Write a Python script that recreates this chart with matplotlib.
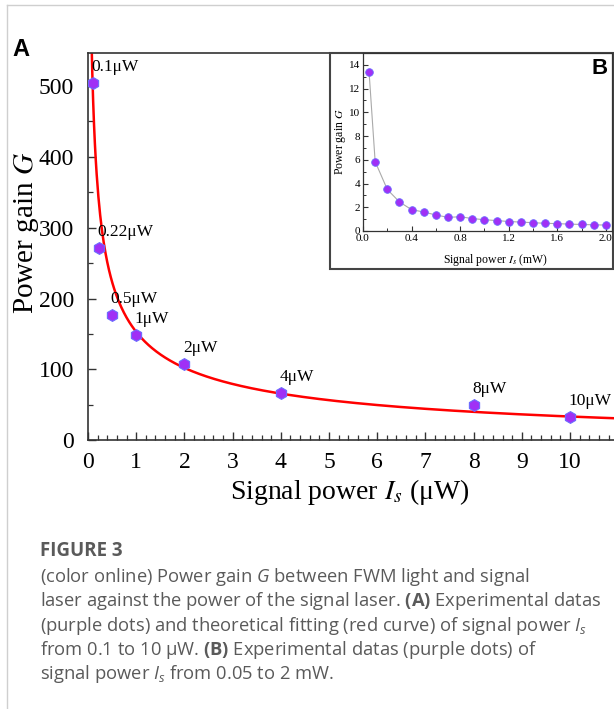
import numpy as np
import matplotlib.pyplot as plt
from matplotlib.patches import Rectangle
from matplotlib.lines import Line2D
from matplotlib.ticker import MultipleLocator

# (A) measured gain vs signal power (uW)
power_uw = [0.1, 0.22, 0.5, 1, 2, 4, 8, 10]
gain_uw = [504, 271, 177, 148, 108, 67, 50, 33]
point_labels = ["0.1\u03bcW", "0.22\u03bcW", "0.5\u03bcW", "1\u03bcW", "2\u03bcW",
                "4\u03bcW", "8\u03bcW", "10\u03bcW"]

# theoretical fitting (red curve), G = a / sqrt(I + c) + d
fit_a = 176.8
fit_c = 0.018
fit_d = -22.2

# (B) measured gain vs signal power (mW)
power_mw = [0.05, 0.1, 0.2, 0.3, 0.4, 0.5, 0.6, 0.7, 0.8, 0.9, 1.0,
            1.1, 1.2, 1.3, 1.4, 1.5, 1.6, 1.7, 1.8, 1.9, 2.0]
gain_mw = [13.4, 5.85, 3.5, 2.45, 1.8, 1.6, 1.35, 1.15, 1.2, 1.05, 0.95,
           0.88, 0.8, 0.75, 0.7, 0.65, 0.62, 0.58, 0.55, 0.52, 0.5]

serif = "Liberation Serif"
purple = "#a030f5"
edge = "#6b6bff"

plt.rcParams["mathtext.fontset"] = "custom"
plt.rcParams["mathtext.rm"] = "Open Sans"
plt.rcParams["mathtext.it"] = "Open Sans:italic"
plt.rcParams["mathtext.bf"] = "Open Sans:bold"

W, H = 614, 709
fig = plt.figure(figsize=(W / 100, H / 100), dpi=100)

# page frame
fig.add_artist(Line2D([6.5 / W, 6.5 / W], [0, 1 - 5 / H], color="#cfcfcf", lw=1))
fig.add_artist(Line2D([6.5 / W, 1], [1 - 5 / H, 1 - 5 / H], color="#cfcfcf", lw=1))

# main panel
ax_h = 440.4 - 52.5
ax_w = 11 * 48.2
ax = fig.add_axes([88 / W, 1 - 440.4 / H, ax_w / W, ax_h / H])
ax.set_xlim(0, 11)
ax.set_ylim(0, 547)

xs = np.linspace(0.07, 11, 600)
ax.plot(xs, fit_a / np.sqrt(xs + fit_c) + fit_d, color="red", lw=1.8, zorder=2)
ax.plot(power_uw, gain_uw, linestyle="none", marker="h", ms=8.5,
        mfc=purple, mec=edge, mew=0.8, zorder=3)
for x, y, t in zip(power_uw, gain_uw, point_labels):
    ax.annotate(t, (x, y), xytext=(-1, 11.5), textcoords="offset points",
                ha="left", va="center", fontsize=12.5, family=serif, zorder=4)

ax.xaxis.set_major_locator(MultipleLocator(1))
ax.xaxis.set_minor_locator(MultipleLocator(0.2))
ax.yaxis.set_major_locator(MultipleLocator(100))
ax.yaxis.set_minor_locator(MultipleLocator(50))
ax.tick_params(which="both", direction="in", top=False, right=False, color="#333333")
ax.tick_params(which="major", length=6, width=1, labelsize=17, pad=8)
ax.tick_params(which="minor", length=3.5, width=0.9)
ax.tick_params(axis="y", which="major", pad=10)
ax.set_xticks(range(0, 11))
for lab in ax.get_xticklabels() + ax.get_yticklabels():
    lab.set_family(serif)
for s in ax.spines.values():
    s.set_linewidth(1.2)
    s.set_color("#333333")
ax.set_xlabel("Signal power $I_s$ (\u03bcW)", fontsize=20, family=serif,
              math_fontfamily="stix", va="center")
ax.set_ylabel("Power gain $G$", fontsize=21, family=serif,
              math_fontfamily="stix", va="center")
ax.xaxis.set_label_coords((350 - 88) / ax_w, -(492 - 440.4) / ax_h)
ax.yaxis.set_label_coords(-(88 - 27) / ax_w, (440.4 - 233) / ax_h)

fig.text(12 / W, 1 - 49 / H, "A", fontsize=17, fontweight="bold",
         family="Liberation Sans", va="center", ha="left")

# inset frame
box = Rectangle((330 / W, 1 - 269 / H), (613 - 330) / W, (269 - 52.5) / H,
                transform=fig.transFigure, facecolor="white", edgecolor="#444444",
                lw=1.5, zorder=1)
fig.add_artist(box)

# inset panel (B)
ai_h = 231 - 53
ai_w = 612 - 363
ai = fig.add_axes([363 / W, 1 - 231 / H, ai_w / W, ai_h / H], zorder=2)
ai.set_xlim(0, 2.05)
ai.set_ylim(0, 15)
ai.plot(power_mw, gain_mw, color="#aaaaaa", lw=0.8, marker="o", ms=5.5,
        mfc=purple, mec=edge, mew=0.6)
ai.xaxis.set_major_locator(MultipleLocator(0.4))
ai.xaxis.set_minor_locator(MultipleLocator(0.2))
ai.yaxis.set_major_locator(MultipleLocator(2))
ai.yaxis.set_minor_locator(MultipleLocator(1))
ai.xaxis.set_major_formatter(lambda v, p: f"{v:.1f}")
ai.tick_params(which="both", direction="in", top=False, right=False, color="#333333")
ai.tick_params(which="major", length=3.5, width=0.8, labelsize=8, pad=2)
ai.tick_params(which="minor", length=2, width=0.7)
for lab in ai.get_xticklabels() + ai.get_yticklabels():
    lab.set_family(serif)
for s in ai.spines.values():
    s.set_linewidth(0.9)
    s.set_color("#333333")
ai.set_xlabel("Signal power $I_s$ (mW)", fontsize=8.5, family=serif,
              math_fontfamily="stix", va="center")
ai.set_ylabel("Power gain $G$", fontsize=8.5, family=serif,
              math_fontfamily="stix", va="center")
ai.xaxis.set_label_coords((496 - 363) / ai_w, -(260 - 231) / ai_h)
ai.yaxis.set_label_coords(-(363 - 341) / ai_w, 0.5)
fig.text(608 / W, 1 - 69 / H, "B", fontsize=16, fontweight="bold",
         family="Liberation Sans", va="center", ha="right", zorder=3)

# caption
cap = "#5a5a5a"
fig.text(40 / W, 1 - 551 / H, "FIGURE 3", fontsize=13.5, fontweight="bold",
         family="Open Sans", color=cap, va="center")
lines = [
    "(color online) Power gain $G$ between FWM light and signal",
    "laser against the power of the signal laser. $\\mathbf{(A)}$ Experimental datas",
    "(purple dots) and theoretical fitting (red curve) of signal power $I_s$",
    "from 0.1 to 10 \u03bcW. $\\mathbf{(B)}$ Experimental datas (purple dots) of",
    "signal power $I_s$ from 0.05 to 2 mW.",
]
for i, t in enumerate(lines):
    fig.text(40 / W, 1 - (577 + 24.3 * i) / H, t, fontsize=13.2, family="Open Sans",
             color=cap, va="center")

fig.savefig("out.png", dpi=100)
